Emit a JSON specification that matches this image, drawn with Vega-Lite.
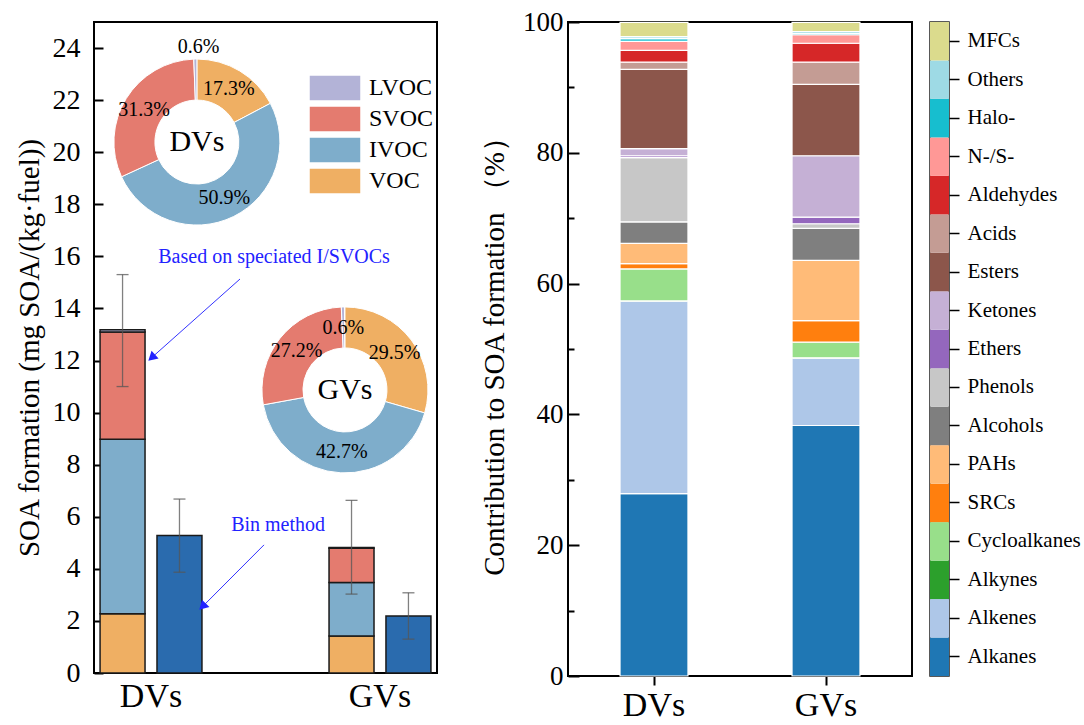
{
  "$schema": "https://vega.github.io/schema/vega-lite/v6.json",
  "background": "white",
  "padding": {"left": 14, "top": 7, "right": 0, "bottom": 5},
  "config": {
    "font": "Liberation Serif",
    "view": {"stroke": null},
    "axis": {"labelFont": "Liberation Serif", "titleFont": "Liberation Serif", "labelColor": "black", "titleColor": "black", "tickColor": "black", "domainColor": "black", "titleFontWeight": "normal", "grid": false, "tickWidth": 2, "domainWidth": 2},
    "legend": {"labelFont": "Liberation Serif"}
  },
  "datasets": {
    "soa": [
      {"vehicle": "DVs", "method": "Speciated", "component": "VOC", "value": 2.28, "pct": 17.3},
      {"vehicle": "DVs", "method": "Speciated", "component": "IVOC", "value": 6.70, "pct": 50.9},
      {"vehicle": "DVs", "method": "Speciated", "component": "SVOC", "value": 4.12, "pct": 31.3},
      {"vehicle": "DVs", "method": "Speciated", "component": "LVOC", "value": 0.08, "pct": 0.6},
      {"vehicle": "GVs", "method": "Speciated", "component": "VOC", "value": 1.42, "pct": 29.5},
      {"vehicle": "GVs", "method": "Speciated", "component": "IVOC", "value": 2.06, "pct": 42.7},
      {"vehicle": "GVs", "method": "Speciated", "component": "SVOC", "value": 1.31, "pct": 27.2},
      {"vehicle": "GVs", "method": "Speciated", "component": "LVOC", "value": 0.03, "pct": 0.6}
    ],
    "err": [
      {"vehicle": "DVs", "method": "Speciated", "mean": 13.17, "lo": 11.0, "hi": 15.3},
      {"vehicle": "DVs", "method": "Bin", "mean": 5.28, "lo": 3.87, "hi": 6.68},
      {"vehicle": "GVs", "method": "Speciated", "mean": 4.82, "lo": 3.03, "hi": 6.63},
      {"vehicle": "GVs", "method": "Bin", "mean": 2.19, "lo": 1.3, "hi": 3.08}
    ],
    "contrib": [
      {"vehicle": "DVs", "species": "Alkanes", "pct": 27.9},
      {"vehicle": "DVs", "species": "Alkenes", "pct": 29.4},
      {"vehicle": "DVs", "species": "Alkynes", "pct": 0.05},
      {"vehicle": "DVs", "species": "Cycloalkanes", "pct": 4.9},
      {"vehicle": "DVs", "species": "SRCs", "pct": 0.8},
      {"vehicle": "DVs", "species": "PAHs", "pct": 3.1},
      {"vehicle": "DVs", "species": "Alcohols", "pct": 3.3},
      {"vehicle": "DVs", "species": "Phenols", "pct": 9.8},
      {"vehicle": "DVs", "species": "Ethers", "pct": 0.3},
      {"vehicle": "DVs", "species": "Ketones", "pct": 1.1},
      {"vehicle": "DVs", "species": "Esters", "pct": 12.1},
      {"vehicle": "DVs", "species": "Acids", "pct": 1.1},
      {"vehicle": "DVs", "species": "Aldehydes", "pct": 1.8},
      {"vehicle": "DVs", "species": "N-/S-", "pct": 1.4},
      {"vehicle": "DVs", "species": "Halo-", "pct": 0.4},
      {"vehicle": "DVs", "species": "Others", "pct": 0.3},
      {"vehicle": "DVs", "species": "MFCs", "pct": 2.2},
      {"vehicle": "GVs", "species": "Alkanes", "pct": 38.3},
      {"vehicle": "GVs", "species": "Alkenes", "pct": 10.3},
      {"vehicle": "GVs", "species": "Alkynes", "pct": 0.05},
      {"vehicle": "GVs", "species": "Cycloalkanes", "pct": 2.4},
      {"vehicle": "GVs", "species": "SRCs", "pct": 3.3},
      {"vehicle": "GVs", "species": "PAHs", "pct": 9.2},
      {"vehicle": "GVs", "species": "Alcohols", "pct": 4.9},
      {"vehicle": "GVs", "species": "Phenols", "pct": 0.7},
      {"vehicle": "GVs", "species": "Ethers", "pct": 1.0},
      {"vehicle": "GVs", "species": "Ketones", "pct": 9.4},
      {"vehicle": "GVs", "species": "Esters", "pct": 10.9},
      {"vehicle": "GVs", "species": "Acids", "pct": 3.4},
      {"vehicle": "GVs", "species": "Aldehydes", "pct": 2.9},
      {"vehicle": "GVs", "species": "N-/S-", "pct": 1.3},
      {"vehicle": "GVs", "species": "Halo-", "pct": 0.2},
      {"vehicle": "GVs", "species": "Others", "pct": 0.3},
      {"vehicle": "GVs", "species": "MFCs", "pct": 1.4}
    ],
    "one": [{}]
  },
  "bounds": "flush",
  "spacing": 131,
  "resolve": {"scale": {"color": "independent"}},
  "hconcat": [
    {
      "width": 343,
      "height": 651,
      "view": {"stroke": "black", "strokeWidth": 2},
      "resolve": {"scale": {"x": "independent"}},
      "layer": [
        {
          "layer": [
            {
              "data": {"name": "soa"},
              "transform": [{"calculate": "indexof(['VOC','IVOC','SVOC','LVOC'], datum.component)", "as": "ord"}],
              "mark": {"type": "bar", "stroke": "#1a1a1a", "strokeWidth": 1.5},
              "encoding": {
                "x": {"field": "vehicle", "type": "nominal", "scale": {"domain": ["DVs", "GVs"], "paddingInner": 0.555, "paddingOuter": 0.0265}, "axis": {"title": null, "ticks": false, "domain": false, "labelFontSize": 34, "labelAngle": 0, "labelPadding": 6, "encode": {"labels": {"update": {"dx": {"signal": "datum.value === 'DVs' ? -10 : 3"}}}}}},
                "xOffset": {"field": "method", "type": "nominal", "scale": {"domain": ["Speciated", "Bin"], "paddingInner": 0.21, "paddingOuter": 0}},
                "y": {"field": "value", "type": "quantitative", "stack": "zero", "scale": {"domain": [0, 25], "nice": false}, "axis": {"title": "SOA formation (mg SOA/(kg·fuel))", "values": [0, 2, 4, 6, 8, 10, 12, 14, 16, 18, 20, 22, 24], "tickSize": -9, "labelFontSize": 28, "labelPadding": 23, "titleFontSize": 29, "titlePadding": 8, "domain": false}},
                "color": {"field": "component", "type": "nominal", "scale": {"domain": ["LVOC", "SVOC", "IVOC", "VOC"], "range": ["#B3B3D7", "#E47B6F", "#7EADCB", "#EFAF63"]}, "legend": {"orient": "none", "legendX": 227, "legendY": 52, "title": null, "symbolType": "M-2,-1H2V1H-2Z", "symbolSize": 676, "symbolStrokeColor": "#333", "symbolStrokeWidth": 1.5, "symbolOpacity": 1, "labelFontSize": 24, "labelOffset": 20, "rowPadding": -1, "labelColor": "black", "padding": 0}},
                "order": {"field": "ord", "type": "quantitative"}
              }
            },
            {
              "data": {"name": "err"},
              "transform": [{"filter": "datum.method === 'Bin'"}],
              "mark": {"type": "bar", "fill": "#2A6BAE", "stroke": "#1a1a1a", "strokeWidth": 1.5},
              "encoding": {
                "x": {"field": "vehicle", "type": "nominal"},
                "xOffset": {"field": "method", "type": "nominal"},
                "y": {"field": "mean", "type": "quantitative"}
              }
            },
            {
              "data": {"name": "err"},
              "mark": {"type": "rule", "color": "#555555", "strokeWidth": 1.3, "opacity": 0.75},
              "encoding": {
                "x": {"field": "vehicle", "type": "nominal"},
                "xOffset": {"field": "method", "type": "nominal"},
                "y": {"field": "lo", "type": "quantitative"},
                "y2": {"field": "hi"}
              }
            },
            {
              "data": {"name": "err"},
              "mark": {"type": "tick", "orient": "horizontal", "size": 12, "thickness": 1.3, "color": "#555555", "opacity": 0.75},
              "encoding": {
                "x": {"field": "vehicle", "type": "nominal"},
                "xOffset": {"field": "method", "type": "nominal"},
                "y": {"field": "lo", "type": "quantitative"}
              }
            },
            {
              "data": {"name": "err"},
              "mark": {"type": "tick", "orient": "horizontal", "size": 12, "thickness": 1.3, "color": "#555555", "opacity": 0.75},
              "encoding": {
                "x": {"field": "vehicle", "type": "nominal"},
                "xOffset": {"field": "method", "type": "nominal"},
                "y": {"field": "hi", "type": "quantitative"}
              }
            }
          ]
        },
        {
          "layer": [
            {
              "data": {"name": "soa"},
              "transform": [{"filter": "datum.vehicle === 'DVs'"}, {"calculate": "indexof(['VOC','IVOC','SVOC','LVOC'], datum.component)", "as": "ord"}],
              "mark": {"type": "arc", "outerRadius": 83, "innerRadius": 42, "stroke": "white", "strokeWidth": 1},
              "encoding": {
                "x": {"datum": 1.80, "type": "quantitative", "scale": {"domain": [0, 6]}, "axis": null},
                "y": {"datum": 20.39, "type": "quantitative"},
                "theta": {"field": "pct", "type": "quantitative", "stack": true},
                "color": {"field": "component", "type": "nominal"},
                "order": {"field": "ord", "type": "quantitative"}
              }
            },
            {
              "data": {"name": "soa"},
              "transform": [{"filter": "datum.vehicle === 'GVs'"}, {"calculate": "indexof(['VOC','IVOC','SVOC','LVOC'], datum.component)", "as": "ord"}],
              "mark": {"type": "arc", "outerRadius": 83, "innerRadius": 42, "stroke": "white", "strokeWidth": 1},
              "encoding": {
                "x": {"datum": 4.39, "type": "quantitative", "scale": {"domain": [0, 6]}, "axis": null},
                "y": {"datum": 10.87, "type": "quantitative"},
                "theta": {"field": "pct", "type": "quantitative", "stack": true},
                "color": {"field": "component", "type": "nominal"},
                "order": {"field": "ord", "type": "quantitative"}
              }
            },
            {
              "data": {"name": "soa"},
              "transform": [{"filter": "datum.vehicle === 'DVs' && datum.component !== 'LVOC'"}, {"calculate": "indexof(['VOC','IVOC','SVOC','LVOC'], datum.component)", "as": "ord"}, {"calculate": "format(datum.pct, '.1f') + '%'", "as": "lab"}],
              "mark": {"type": "text", "radius": 62, "fontSize": 20, "color": "black", "align": "center", "baseline": "middle"},
              "encoding": {
                "x": {"datum": 1.80, "type": "quantitative", "scale": {"domain": [0, 6]}, "axis": null},
                "y": {"datum": 20.39, "type": "quantitative"},
                "theta": {"field": "pct", "type": "quantitative", "stack": true},
                "order": {"field": "ord", "type": "quantitative"},
                "text": {"field": "lab"}
              }
            },
            {
              "data": {"name": "soa"},
              "transform": [{"filter": "datum.vehicle === 'DVs' && datum.component === 'LVOC'"}, {"calculate": "format(datum.pct, '.1f') + '%'", "as": "lab"}],
              "mark": {"type": "text", "radius": 95, "fontSize": 20, "color": "black", "align": "center", "baseline": "middle"},
              "encoding": {
                "x": {"datum": 1.80, "type": "quantitative", "scale": {"domain": [0, 6]}, "axis": null},
                "y": {"datum": 20.39, "type": "quantitative"},
                "theta": {"field": "pct", "type": "quantitative", "stack": true},
                "text": {"field": "lab"}
              }
            },
            {
              "data": {"name": "soa"},
              "transform": [{"filter": "datum.vehicle === 'GVs'"}, {"calculate": "indexof(['VOC','IVOC','SVOC','LVOC'], datum.component)", "as": "ord"}, {"calculate": "format(datum.pct, '.1f') + '%'", "as": "lab"}],
              "mark": {"type": "text", "radius": 62, "fontSize": 20, "color": "black", "align": "center", "baseline": "middle"},
              "encoding": {
                "x": {"datum": 4.39, "type": "quantitative", "scale": {"domain": [0, 6]}, "axis": null},
                "y": {"datum": 10.87, "type": "quantitative"},
                "theta": {"field": "pct", "type": "quantitative", "stack": true},
                "order": {"field": "ord", "type": "quantitative"},
                "text": {"field": "lab"}
              }
            },
            {
              "data": {"name": "one"},
              "mark": {"type": "text", "fontSize": 30, "color": "black", "align": "center", "baseline": "middle"},
              "encoding": {
                "x": {"datum": 1.80, "type": "quantitative", "scale": {"domain": [0, 6]}, "axis": null},
                "y": {"datum": 20.39, "type": "quantitative"},
                "text": {"value": "DVs"}
              }
            },
            {
              "data": {"name": "one"},
              "mark": {"type": "text", "fontSize": 30, "color": "black", "align": "center", "baseline": "middle"},
              "encoding": {
                "x": {"datum": 4.39, "type": "quantitative", "scale": {"domain": [0, 6]}, "axis": null},
                "y": {"datum": 10.87, "type": "quantitative"},
                "text": {"value": "GVs"}
              }
            },
            {
              "data": {"name": "one"},
              "mark": {"type": "text", "fontSize": 20, "color": "#2222ff", "align": "center", "baseline": "middle"},
              "encoding": {
                "x": {"datum": 3.15, "type": "quantitative", "scale": {"domain": [0, 6]}, "axis": null},
                "y": {"datum": 15.98, "type": "quantitative"},
                "text": {"value": "Based on speciated I/SVOCs"}
              }
            },
            {
              "data": {"name": "one"},
              "mark": {"type": "text", "fontSize": 20, "color": "#2222ff", "align": "center", "baseline": "middle"},
              "encoding": {
                "x": {"datum": 3.22, "type": "quantitative", "scale": {"domain": [0, 6]}, "axis": null},
                "y": {"datum": 5.68, "type": "quantitative"},
                "text": {"value": "Bin method"}
              }
            },
            {
              "data": {"name": "one"},
              "mark": {"type": "rule", "color": "#3333ff", "strokeWidth": 1},
              "encoding": {
                "x": {"datum": 2.554, "type": "quantitative", "scale": {"domain": [0, 6]}, "axis": null},
                "y": {"datum": 15.13, "type": "quantitative"},
                "x2": {"datum": 1.009},
                "y2": {"datum": 12.11}
              }
            },
            {
              "data": {"name": "one"},
              "mark": {"type": "rule", "color": "#3333ff", "strokeWidth": 1},
              "encoding": {
                "x": {"datum": 2.974, "type": "quantitative", "scale": {"domain": [0, 6]}, "axis": null},
                "y": {"datum": 4.92, "type": "quantitative"},
                "x2": {"datum": 1.898},
                "y2": {"datum": 2.55}
              }
            },
            {
              "data": {"name": "one"},
              "mark": {"type": "point", "shape": "triangle-up", "filled": true, "color": "#2222ff", "opacity": 1, "size": 110, "angle": 228},
              "encoding": {
                "x": {"datum": 1.009, "type": "quantitative", "scale": {"domain": [0, 6]}, "axis": null},
                "y": {"datum": 12.11, "type": "quantitative"}
              }
            },
            {
              "data": {"name": "one"},
              "mark": {"type": "point", "shape": "triangle-up", "filled": true, "color": "#2222ff", "opacity": 1, "size": 110, "angle": 225},
              "encoding": {
                "x": {"datum": 1.898, "type": "quantitative", "scale": {"domain": [0, 6]}, "axis": null},
                "y": {"datum": 2.55, "type": "quantitative"}
              }
            }
          ]
        }
      ]
    },
    {
      "bounds": "flush",
      "spacing": 18,
      "hconcat": [
        {
          "width": 344,
          "height": 654,
          "view": {"stroke": "black", "strokeWidth": 2},
          "resolve": {"axis": {"y": "independent"}},
          "layer": [
            {
              "data": {"name": "contrib"},
              "transform": [{"calculate": "indexof(['Alkanes','Alkenes','Alkynes','Cycloalkanes','SRCs','PAHs','Alcohols','Phenols','Ethers','Ketones','Esters','Acids','Aldehydes','N-/S-','Halo-','Others','MFCs'], datum.species)", "as": "ord"}],
              "mark": {"type": "bar", "stroke": "white", "strokeWidth": 1.2},
              "encoding": {
                "x": {"field": "vehicle", "type": "nominal", "scale": {"paddingInner": 0.605}, "axis": {"title": null, "labelAngle": 0, "labelFontSize": 34, "tickSize": 9, "labelPadding": 3, "domain": false}},
                "y": {"field": "pct", "type": "quantitative", "stack": "zero", "scale": {"domain": [0, 100], "nice": false}, "axis": {"title": "Contribution to SOA formation （%）", "values": [0, 20, 40, 60, 80, 100], "tickSize": -11, "labelFontSize": 27, "labelPadding": 16, "titleFontSize": 29, "titlePadding": 13, "domain": false}},
                "color": {"field": "species", "type": "nominal", "scale": {"domain": ["Alkanes","Alkenes","Alkynes","Cycloalkanes","SRCs","PAHs","Alcohols","Phenols","Ethers","Ketones","Esters","Acids","Aldehydes","N-/S-","Halo-","Others","MFCs"], "range": ["#1f77b4","#aec7e8","#2ca02c","#98df8a","#ff7f0e","#ffbb78","#7f7f7f","#c7c7c7","#9467bd","#c5b0d5","#8c564b","#c49c94","#d62728","#ff9896","#17becf","#9edae5","#dbdb8d"]}, "legend": null},
                "order": {"field": "ord", "type": "quantitative"}
              }
            },
            {
              "data": {"name": "one"},
              "mark": {"type": "rule", "opacity": 0},
              "encoding": {
                "y": {"datum": 0, "type": "quantitative", "axis": {"orient": "left", "values": [10, 30, 50, 70, 90], "labels": false, "tickSize": -6, "domain": false, "title": null}}
              }
            }
          ]
        },
        {
          "width": 19,
          "height": 654,
          "view": {"stroke": "#222222", "strokeWidth": 1.5},
          "data": {"name": "contrib"},
          "transform": [{"filter": "datum.vehicle === 'DVs'"}],
          "mark": {"type": "bar"},
          "encoding": {
            "y": {"field": "species", "type": "nominal", "sort": ["MFCs","Others","Halo-","N-/S-","Aldehydes","Acids","Esters","Ketones","Ethers","Phenols","Alcohols","PAHs","SRCs","Cycloalkanes","Alkynes","Alkenes","Alkanes"], "scale": {"paddingInner": 0, "paddingOuter": 0}, "axis": {"orient": "right", "title": null, "domain": false, "tickSize": 10, "tickWidth": 1.5, "labelFontSize": 21, "labelPadding": 8}},
            "x": {"datum": 0, "type": "quantitative", "scale": {"domain": [0, 1]}, "axis": null},
            "x2": {"datum": 1},
            "color": {"field": "species", "type": "nominal", "scale": {"domain": ["Alkanes","Alkenes","Alkynes","Cycloalkanes","SRCs","PAHs","Alcohols","Phenols","Ethers","Ketones","Esters","Acids","Aldehydes","N-/S-","Halo-","Others","MFCs"], "range": ["#1f77b4","#aec7e8","#2ca02c","#98df8a","#ff7f0e","#ffbb78","#7f7f7f","#c7c7c7","#9467bd","#c5b0d5","#8c564b","#c49c94","#d62728","#ff9896","#17becf","#9edae5","#dbdb8d"]}, "legend": null}
          }
        }
      ]
    }
  ]
}
